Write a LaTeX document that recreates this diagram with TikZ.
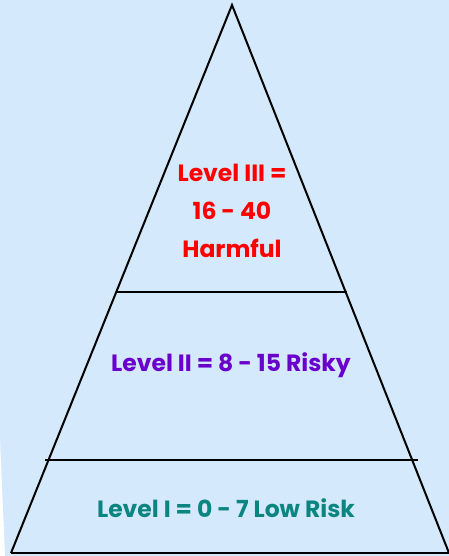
\documentclass[tikz,border=0pt]{standalone}
\usepackage{fontspec}
\setmainfont{Poppins}
\usetikzlibrary{calc}
\definecolor{skyback}{HTML}{D5E9FC}
\definecolor{harmred}{HTML}{FF0000}
\definecolor{riskpurple}{HTML}{6A00CC}
\definecolor{lowteal}{HTML}{0B8580}
\begin{document}
\begin{tikzpicture}[
  x=1pt,y=-1pt,
  edge/.style={draw=black, line width=2pt, line join=miter},
  divider/.style={draw=black, line width=2pt},
  levellabel/.style={font=\fontsize{23.5}{38}\selectfont\bfseries, align=center}
]
\path[use as bounding box] (0,0) rectangle (449,556);

% Background
\fill[skyback] (0,0) rectangle (449,556);
\fill[white] (0,440) -- (5,556) -- (0,556) -- cycle;

% Pyramid outline
\coordinate (apex) at (232,5);
\coordinate (baseL) at (11,553);
\coordinate (baseR) at (449,553);
\draw[edge] (baseL) -- (apex) -- (baseR);
\draw[edge] (baseL) -- (baseR);

% Dividers between the levels
\coordinate (upL) at (117,292);
\coordinate (upR) at (347,292);
\coordinate (lowL) at (45,460);
\coordinate (lowR) at (418,460);
\draw[divider] (upL) -- (upR);
\draw[divider] (lowL) -- (lowR);

% Level labels
\node[levellabel, text=harmred] (three) at (232,211)
  {Level III =\\16 - 40\\Harmful};
\node[levellabel, text=riskpurple] (two) at (231,365)
  {Level II = 8 - 15 Risky};
\node[levellabel, text=lowteal] (one) at (226,508)
  {Level I = 0 - 7 Low Risk};

\end{tikzpicture}
\end{document}
